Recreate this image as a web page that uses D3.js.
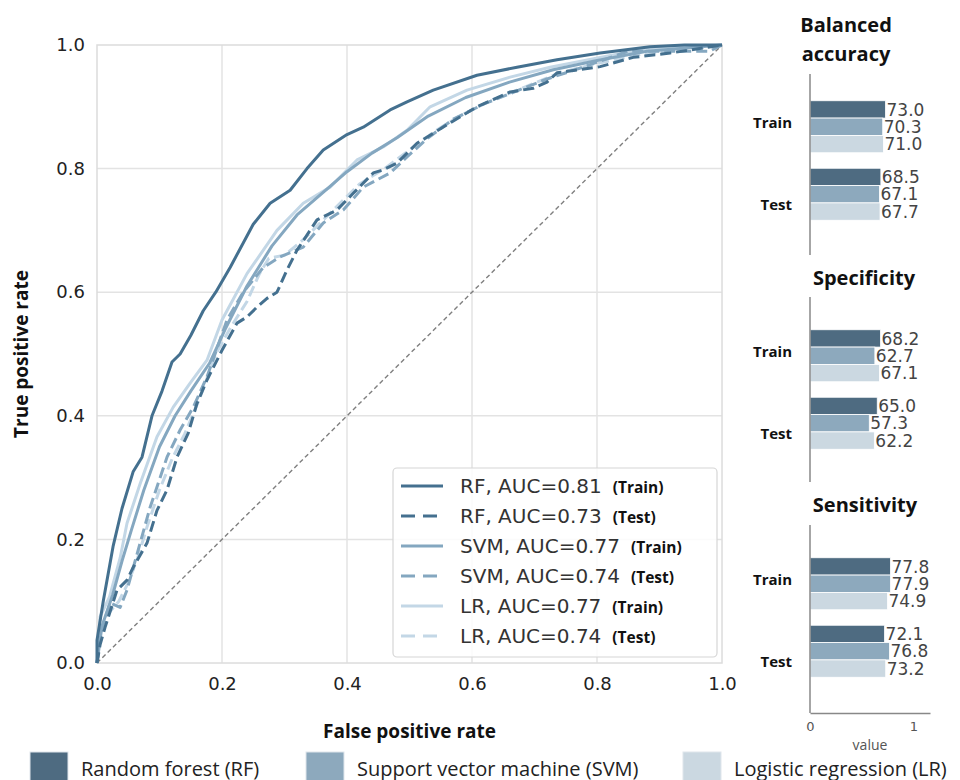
<!DOCTYPE html>
<html>
<head>
<meta charset="utf-8">
<script src="https://cdn.jsdelivr.net/npm/d3@7"></script>
<style>
    body { margin: 0; background: #fff; }
    svg { display: block; }
</style>
</head>
<body>
<div id="chart"></div>
<script>
// ROC curves, [false positive rate, true positive rate]
const rfTrain = [[0,0],[0,0.037],[0.01,0.10],[0.026,0.19],[0.04,0.25],[0.058,0.31],[0.072,0.333],[0.088,0.40],[0.104,0.44],[0.12,0.487],[0.133,0.50],[0.15,0.53],[0.17,0.57],[0.19,0.60],[0.213,0.64],[0.25,0.71],[0.277,0.744],[0.309,0.765],[0.336,0.80],[0.362,0.83],[0.40,0.855],[0.426,0.867],[0.469,0.895],[0.496,0.908],[0.538,0.927],[0.608,0.951],[0.672,0.964],[0.736,0.976],[0.805,0.987],[0.885,0.997],[0.94,1.0],[1,1]];
const rfTest = [[0,0],[0.005,0.03],[0.013,0.058],[0.032,0.118],[0.048,0.134],[0.058,0.155],[0.08,0.194],[0.096,0.247],[0.112,0.28],[0.128,0.333],[0.146,0.372],[0.16,0.42],[0.176,0.458],[0.20,0.506],[0.224,0.55],[0.24,0.56],[0.255,0.575],[0.272,0.59],[0.288,0.60],[0.304,0.636],[0.32,0.668],[0.352,0.717],[0.384,0.733],[0.41,0.76],[0.442,0.793],[0.458,0.798],[0.48,0.809],[0.512,0.841],[0.565,0.874],[0.608,0.90],[0.661,0.924],[0.698,0.93],[0.72,0.94],[0.736,0.955],[0.805,0.965],[0.858,0.98],[0.917,0.987],[1,1]];
const svmTrain = [[0,0],[0.008,0.06],[0.025,0.11],[0.04,0.165],[0.055,0.215],[0.075,0.28],[0.1,0.35],[0.125,0.40],[0.15,0.44],[0.18,0.485],[0.205,0.54],[0.24,0.61],[0.28,0.675],[0.32,0.725],[0.36,0.76],[0.40,0.795],[0.44,0.825],[0.48,0.85],[0.53,0.885],[0.59,0.915],[0.66,0.94],[0.73,0.96],[0.80,0.975],[0.88,0.99],[1,1]];
const svmTest = [[0,0],[0.006,0.05],[0.021,0.097],[0.037,0.09],[0.048,0.118],[0.069,0.194],[0.085,0.252],[0.112,0.333],[0.133,0.377],[0.154,0.414],[0.176,0.463],[0.208,0.555],[0.234,0.60],[0.266,0.64],[0.293,0.657],[0.33,0.673],[0.362,0.712],[0.394,0.733],[0.426,0.77],[0.469,0.793],[0.496,0.819],[0.53,0.85],[0.57,0.88],[0.62,0.905],[0.67,0.925],[0.72,0.945],[0.78,0.965],[0.85,0.99],[0.98,0.99],[1,1]];
const lrTrain = [[0,0],[0.005,0.075],[0.02,0.107],[0.037,0.17],[0.048,0.226],[0.069,0.29],[0.096,0.366],[0.122,0.414],[0.149,0.453],[0.176,0.49],[0.20,0.555],[0.24,0.63],[0.288,0.70],[0.33,0.744],[0.373,0.77],[0.416,0.814],[0.458,0.835],[0.496,0.862],[0.533,0.90],[0.592,0.927],[0.661,0.948],[0.725,0.964],[0.805,0.98],[0.885,0.995],[1,1]];
const lrTest = [[0,0],[0.005,0.04],[0.018,0.08],[0.035,0.1],[0.05,0.13],[0.065,0.17],[0.08,0.22],[0.1,0.28],[0.12,0.33],[0.14,0.37],[0.165,0.43],[0.19,0.5],[0.215,0.545],[0.24,0.585],[0.26,0.63],[0.275,0.655],[0.3,0.66],[0.33,0.685],[0.36,0.715],[0.39,0.745],[0.42,0.775],[0.46,0.80],[0.5,0.83],[0.54,0.86],[0.58,0.885],[0.63,0.91],[0.68,0.93],[0.74,0.955],[0.8,0.97],[0.87,0.985],[0.93,0.99],[1,1]];

const models = ['RF', 'SVM', 'LR'];
const modelNames = ['Random forest (RF)', 'Support vector machine (SVM)', 'Logistic regression (LR)'];
const splits = ['Train', 'Test'];

// legend of the ROC panel, in drawing order
const rocModels = ['RF', 'RF', 'SVM', 'SVM', 'LR', 'LR'];
const rocSplits = ['Train', 'Test', 'Train', 'Test', 'Train', 'Test'];
const rocAuc = [0.81, 0.73, 0.77, 0.74, 0.77, 0.74];
const rocCurves = [rfTrain, rfTest, svmTrain, svmTest, lrTrain, lrTest];

const rateTicks = [0, 0.2, 0.4, 0.6, 0.8, 1.0];

// metric panels, values in percent, order RF, SVM, LR
const metricTitles = [['Balanced', 'accuracy'], ['Specificity'], ['Sensitivity']];
const balancedTrain = [73.0, 70.3, 71.0];
const balancedTest = [68.5, 67.1, 67.7];
const specificityTrain = [68.2, 62.7, 67.1];
const specificityTest = [65.0, 57.3, 62.2];
const sensitivityTrain = [77.8, 77.9, 74.9];
const sensitivityTest = [72.1, 76.8, 73.2];
const valueTicks = [0, 1];

const lineColors = { RF: '#44708f', SVM: '#84a7c0', LR: '#c3d7e6' };
const barColors = { RF: '#4e6b81', SVM: '#8da9bd', LR: '#cbd8e1' };

const tickFont = '"DejaVu Sans", sans-serif';
const boldFont = '"Open Sans", sans-serif';

const svg = d3.select('#chart')
    .append('svg')
    .attr('width', 960)
    .attr('height', 780);

/*
 * ROC panel
 */
const roc = { left: 97, right: 722, top: 45, bottom: 663 };

const x = d3.scaleLinear().domain([0, 1]).range([roc.left, roc.right]);
const y = d3.scaleLinear().domain([0, 1]).range([roc.bottom, roc.top]);

const grid = svg.append('g').attr('class', 'grid');

grid.selectAll('line.vx')
    .data(rateTicks.slice(1, -1))
    .enter()
    .append('line')
    .attr('x1', d => x(d)).attr('x2', d => x(d))
    .attr('y1', roc.top).attr('y2', roc.bottom)
    .attr('stroke', '#e3e3e3').attr('stroke-width', 1.5);

grid.selectAll('line.hy')
    .data(rateTicks.slice(1, -1))
    .enter()
    .append('line')
    .attr('y1', d => y(d)).attr('y2', d => y(d))
    .attr('x1', roc.left).attr('x2', roc.right)
    .attr('stroke', '#e3e3e3').attr('stroke-width', 1.5);

grid.append('rect')
    .attr('x', roc.left).attr('y', roc.top)
    .attr('width', roc.right - roc.left)
    .attr('height', roc.bottom - roc.top)
    .attr('fill', 'none')
    .attr('stroke', '#dcdcdc')
    .attr('stroke-width', 1.5);

const xAxis = svg.append('g')
    .attr('transform', 'translate(0,' + roc.bottom + ')')
    .call(d3.axisBottom(x).tickValues(rateTicks).tickFormat(d3.format('.1f')).tickSize(0).tickPadding(14));

const yAxis = svg.append('g')
    .attr('transform', 'translate(' + roc.left + ',0)')
    .call(d3.axisLeft(y).tickValues(rateTicks).tickFormat(d3.format('.1f')).tickSize(0).tickPadding(12));

[xAxis, yAxis].forEach(function(a) {
    a.select('.domain').remove();
    a.selectAll('text')
        .attr('font-family', tickFont)
        .attr('font-size', 18)
        .attr('fill', '#222');
});

svg.append('text')
    .attr('x', (roc.left + roc.right) / 2)
    .attr('y', 738)
    .attr('text-anchor', 'middle')
    .attr('font-family', boldFont)
    .attr('font-weight', 700)
    .attr('font-size', 19)
    .attr('fill', '#111')
    .text('False positive rate');

svg.append('text')
    .attr('transform', 'translate(28,' + ((roc.top + roc.bottom) / 2) + ') rotate(-90)')
    .attr('text-anchor', 'middle')
    .attr('font-family', boldFont)
    .attr('font-weight', 700)
    .attr('font-size', 19)
    .attr('fill', '#111')
    .text('True positive rate');

// chance line
svg.append('line')
    .attr('x1', x(0)).attr('y1', y(0))
    .attr('x2', x(1)).attr('y2', y(1))
    .attr('stroke', '#7f7f7f')
    .attr('stroke-width', 1.4)
    .attr('stroke-dasharray', '4.5,3');

const line = d3.line()
    .x(d => x(d[0]))
    .y(d => y(d[1]));

// light curves first so the dark ones stay on top
const drawOrder = [5, 4, 3, 2, 1, 0];
svg.append('g')
    .selectAll('path')
    .data(drawOrder)
    .enter()
    .append('path')
    .attr('d', i => line(rocCurves[i]))
    .attr('fill', 'none')
    .attr('stroke', i => lineColors[rocModels[i]])
    .attr('stroke-width', 3)
    .attr('stroke-linejoin', 'round')
    .attr('stroke-dasharray', i => rocSplits[i] === 'Test' ? '11,5' : null);

/*
 * ROC legend
 */
const legend = svg.append('g').attr('class', 'roc-legend');

legend.append('rect')
    .attr('x', 393).attr('y', 468)
    .attr('width', 324).attr('height', 189)
    .attr('rx', 4)
    .attr('fill', '#fff')
    .attr('fill-opacity', 0.85)
    .attr('stroke', '#d6d6d6')
    .attr('stroke-width', 1.2);

const rows = legend.selectAll('g.row')
    .data(rocModels.map((m, i) => i))
    .enter()
    .append('g')
    .attr('class', 'row')
    .attr('transform', i => 'translate(0,' + (486 + i * 30) + ')');

rows.append('line')
    .attr('x1', 401).attr('x2', 443)
    .attr('y1', 0).attr('y2', 0)
    .attr('stroke', i => lineColors[rocModels[i]])
    .attr('stroke-width', 3)
    .attr('stroke-dasharray', i => rocSplits[i] === 'Test' ? '14,8' : null);

rows.append('text')
    .attr('class', 'auc')
    .attr('x', 460)
    .attr('y', 0)
    .attr('dy', '0.35em')
    .attr('font-family', tickFont)
    .attr('font-size', 20)
    .attr('fill', '#333')
    .text(i => rocModels[i] + ', AUC=' + rocAuc[i].toFixed(2));

rows.each(function(i) {
    const row = d3.select(this);
    const w = row.select('text.auc').node().getComputedTextLength();
    row.append('text')
        .attr('x', 460 + w + 11)
        .attr('y', 2)
        .attr('dy', '0.35em')
        .attr('font-family', boldFont)
        .attr('font-weight', 700)
        .attr('font-size', 15.5)
        .attr('fill', '#111')
        .text('(' + rocSplits[i] + ')');
});

/*
 * Metric panels
 */
const panels = [
    { title: metricTitles[0], values: [balancedTrain, balancedTest], titleX: 846, titleY: 32, axisTop: 74, axisBottom: 255, bandTop: 93 },
    { title: metricTitles[1], values: [specificityTrain, specificityTest], titleX: 864, titleY: 285, axisTop: 297, axisBottom: 482, bandTop: 322 },
    { title: metricTitles[2], values: [sensitivityTrain, sensitivityTest], titleX: 865, titleY: 512, axisTop: 525, axisBottom: 713, bandTop: 550 }
];

const xv = d3.scaleLinear().domain([0, 1.16]).range([810, 930]);
const labelShift = [-4, 10];

panels.forEach(function(p, pi) {

    const g = svg.append('g').attr('class', 'metric');

    const band = d3.scaleBand().domain(splits).range([p.bandTop, p.bandTop + 135]);
    const inner = d3.scaleBand().domain(models).range([0, 52]);

    g.selectAll('text.title')
        .data(p.title)
        .enter()
        .append('text')
        .attr('x', p.titleX)
        .attr('y', (d, i) => p.titleY + i * 29)
        .attr('text-anchor', 'middle')
        .attr('font-family', boldFont)
        .attr('font-weight', 700)
        .attr('font-size', 20)
        .attr('fill', '#111')
        .text(d => d);

    splits.forEach(function(split, si) {
        const vals = p.values[si];
        const top = band(split) + (band.bandwidth() - 52) / 2;

        g.selectAll('rect.' + split)
            .data(models)
            .enter()
            .append('rect')
            .attr('x', xv(0))
            .attr('y', m => top + inner(m))
            .attr('width', (m, i) => xv(vals[i] / 100) - xv(0))
            .attr('height', inner.bandwidth())
            .attr('fill', m => barColors[m])
            .attr('stroke', '#fff')
            .attr('stroke-width', 0.8);

        g.selectAll('text.v' + split)
            .data(models)
            .enter()
            .append('text')
            .attr('x', (m, i) => xv(vals[i] / 100) + 1)
            .attr('y', m => top + inner(m) + inner.bandwidth() / 2)
            .attr('dy', '0.36em')
            .attr('font-family', tickFont)
            .attr('font-size', 17)
            .attr('fill', '#444')
            .text((m, i) => vals[i].toFixed(1));

        g.append('text')
            .attr('x', 792)
            .attr('y', band(split) + band.bandwidth() / 2 + labelShift[si])
            .attr('dy', '0.35em')
            .attr('text-anchor', 'end')
            .attr('font-family', boldFont)
            .attr('font-weight', 700)
            .attr('font-size', 15)
            .attr('fill', '#111')
            .text(split);
    });

    g.append('line')
        .attr('x1', xv(0)).attr('x2', xv(0))
        .attr('y1', p.axisTop).attr('y2', p.axisBottom)
        .attr('stroke', '#888')
        .attr('stroke-width', 1.5);

    if (pi === panels.length - 1) {
        const bottomAxis = g.append('g')
            .attr('transform', 'translate(0,' + p.axisBottom + ')')
            .call(d3.axisBottom(xv).tickValues(valueTicks).tickFormat(d3.format('d')).tickSize(0).tickPadding(9));
        bottomAxis.select('.domain')
            .attr('stroke', '#888')
            .attr('stroke-width', 1.5);
        bottomAxis.selectAll('text')
            .attr('font-family', tickFont)
            .attr('font-size', 13)
            .attr('fill', '#555');
        g.append('text')
            .attr('x', 870)
            .attr('y', 750)
            .attr('text-anchor', 'middle')
            .attr('font-family', boldFont)
            .attr('font-size', 14)
            .attr('fill', '#555')
            .text('value');
    }
});

/*
 * Model legend at the bottom
 */
const keyX = [30, 306, 683];
const key = svg.append('g')
    .selectAll('g')
    .data(models)
    .enter()
    .append('g')
    .attr('transform', (m, i) => 'translate(' + keyX[i] + ',752)');

key.append('rect')
    .attr('width', 38)
    .attr('height', 34)
    .attr('fill', m => barColors[m])
    .attr('stroke', '#dfe6ec')
    .attr('stroke-width', 1);

key.append('text')
    .attr('x', 51)
    .attr('y', 24)
    .attr('font-family', boldFont)
    .attr('font-size', 20)
    .attr('fill', '#222')
    .text((m, i) => modelNames[i]);
</script>
</body>
</html>
